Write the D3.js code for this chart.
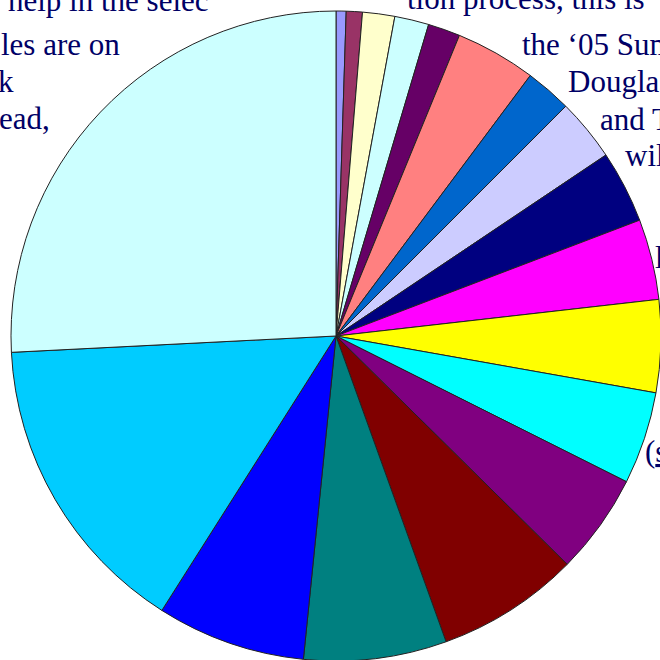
<!DOCTYPE html>
<html>
<head>
<meta charset="utf-8">
<script src="https://cdn.jsdelivr.net/npm/d3@7/dist/d3.min.js"></script>
<style>
  html, body { margin: 0; padding: 0; background: #ffffff; }
  svg { display: block; }
</style>
</head>
<body>
<svg id="chart" width="660" height="660"></svg>
<script>
// Slices, clockwise from 12 o'clock
const categories = ["A","B","C","D","E","F","G","H","I","J","K","L","M","N","O","P","Q","R"];
const values = [0.5, 0.8, 1.6, 1.7, 1.6, 4.0, 2.3, 3.1, 3.6, 4.0, 4.6, 4.6, 5.0, 7.1, 7.1, 7.4, 15.2, 25.8];
const colors = ["#9999FF","#993366","#FFFFCC","#CCFFFF","#660066","#FF8080","#0066CC","#CCCCFF",
                "#000080","#FF00FF","#FFFF00","#00FFFF","#800080","#800000","#008080","#0000FF",
                "#00CCFF","#CCFFFF"];

// Background slide text fragments partly hidden behind the pie
const bgTexts = [
  { t: "help in the selec", x: 8, y: 11 },
  { t: "les are on", x: 1, y: 55 },
  { t: "k", x: -2, y: 92 },
  { t: "ead,", x: -1, y: 129 },
  { t: "tion process, this is", x: 407, y: 9 },
  { t: "the \u201805 Summer", x: 522, y: 55 },
  { t: "Douglas", x: 568, y: 92 },
  { t: "and The", x: 600, y: 130 },
  { t: "will", x: 625, y: 166 },
  { t: "l", x: 655, y: 268 }
];

const svg = d3.select("#chart");
const cx = 336, cy = 336, R = 325;
const font = "'Liberation Serif', 'Times New Roman', serif";

const tg = svg.append("g")
  .attr("font-family", font)
  .attr("font-size", 31)
  .attr("fill", "#000066");

tg.selectAll("text.bg")
  .data(bgTexts).join("text")
  .attr("class", "bg")
  .attr("x", d => d.x).attr("y", d => d.y)
  .text(d => d.t);

const link = tg.append("text").attr("x", 645).attr("y", 462);
link.append("tspan").text("(");
link.append("tspan").attr("text-decoration", "underline").text("see");

const pie = d3.pie().sort(null).value(d => d.v).startAngle(0).endAngle(2 * Math.PI);
const arc = d3.arc().innerRadius(0).outerRadius(R);
const data = values.map((v, i) => ({ c: categories[i], v, col: colors[i] }));

svg.append("g").attr("transform", `translate(${cx},${cy})`)
  .selectAll("path").data(pie(data)).join("path")
  .attr("d", arc)
  .attr("fill", d => d.data.col)
  .attr("stroke", "#222")
  .attr("stroke-width", 1)
  .attr("stroke-linejoin", "round");
</script>
</body>
</html>
